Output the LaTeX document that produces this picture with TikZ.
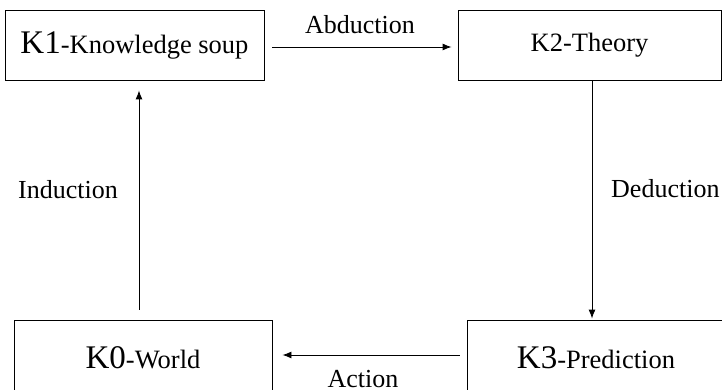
\documentclass[tikz,border=0pt]{standalone}
\usepackage{fontspec}
\setmainfont{Liberation Serif}
\usetikzlibrary{arrows.meta}
\begin{document}
\begin{tikzpicture}[x=1pt,y=-1pt,
  stage/.style={draw,line width=0.9pt,inner sep=0pt,font=\fontsize{26.5}{28}\selectfont},
  flow/.style={line width=0.9pt,-{Latex[length=9pt,width=7pt]}},
  lbl/.style={font=\fontsize{26}{28}\selectfont,inner sep=0pt}]
\newcommand\bigK[1]{{\fontsize{33}{35}\selectfont #1}}
\useasboundingbox (0,0) rectangle (722,390);
\clip (0,0) rectangle (722,390);
% knowledge stages
\node[stage,minimum width=259pt,minimum height=70pt] (K1) at (134.5,45) {\bigK{K1}-Knowledge soup};
\node[stage,minimum width=263pt,minimum height=70pt] (K2) at (589.5,45) {K2-Theory};
\node[stage,minimum width=258pt,minimum height=76pt] (K0) at (143,358) {\bigK{K0}-World};
\node[stage,minimum width=258pt,minimum height=76pt] (K3) at (596,358) {\bigK{K3}-Prediction};
% transitions
\draw[flow,shorten <=8pt,shorten >=6pt] ([yshift=-2pt]K1.east) -- ([yshift=-2pt]K2.west);
\draw[flow,shorten >=1pt] ([xshift=2.5pt]K2.south) -- ([xshift=2.5pt]K2.south |- K3.north);
\draw[flow,shorten <=7pt,shorten >=10pt] ([yshift=3pt]K3.west) -- ([yshift=3pt]K0.east);
\draw[flow,shorten <=10pt,shorten >=10pt] ([xshift=-4pt]K0.north) -- ([xshift=-4pt]K0.north |- K1.south);
% labels
\node[lbl] (abd) at (360,25) {Abduction};
\node[lbl,anchor=west] (ded) at (611,189) {Deduction};
\node[lbl,anchor=base] (act) at (363,387) {Action};
\node[lbl] (ind) at (68,190) {Induction};
\end{tikzpicture}
\end{document}
